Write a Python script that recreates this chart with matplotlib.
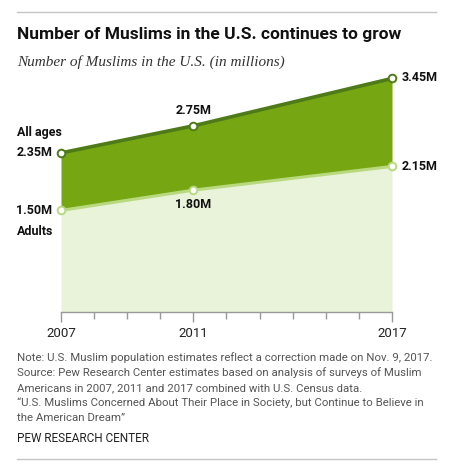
import matplotlib
matplotlib.use("Agg")
import matplotlib.pyplot as plt
from matplotlib.lines import Line2D

years = [2007, 2011, 2017]
all_ages = [2.35, 2.75, 3.45]
adults = [1.50, 1.80, 2.15]
all_labels = ["2.35M", "2.75M", "3.45M"]
adult_labels = ["1.50M", "1.80M", "2.15M"]

title = "Number of Muslims in the U.S. continues to grow"
subtitle = "Number of Muslims in the U.S. (in millions)"
notes = [
    "Note: U.S. Muslim population estimates reflect a correction made on Nov. 9, 2017.",
    "Source: Pew Research Center estimates based on analysis of surveys of Muslim",
    "Americans in 2007, 2011 and 2017 combined with U.S. Census data.",
    "\u201cU.S. Muslims Concerned About Their Place in Society, but Continue to Believe in",
    "the American Dream\u201d",
]

W, H = 454, 470
dark_fill = "#77a613"
dark_line = "#4e7a17"
light_fill = "#e9f3da"
light_line = "#b9d97f"
sans = "Roboto"

fig = plt.figure(figsize=(W / 100, H / 100), dpi=100)


def fx(px):
    return px / W


def fy(py):
    return 1 - py / H


# axes: 2007 at x=61px, 2017 at x=392px, zero at y=312px, 67.7 px per million
ytop = 3.6
ax = fig.add_axes([fx(61), fy(312), fx(392) - fx(61), ytop * 67.7 / H])
ax.set_xlim(2007, 2017)
ax.set_ylim(0, ytop)

ax.fill_between(years, adults, all_ages, color=dark_fill, lw=0)
ax.fill_between(years, 0, adults, color=light_fill, lw=0)
ax.plot(years, all_ages, color=dark_line, lw=2.6, solid_capstyle="butt")
ax.plot(years, adults, color=light_line, lw=2.2, solid_capstyle="butt")
ax.plot([2017, 2017], [0, adults[-1]], color=light_line, lw=0.8)
ax.plot(years, all_ages, "o", ms=5.5, mfc="white", mec=dark_line, mew=1.4, clip_on=False)
ax.plot(years, adults, "o", ms=5.5, mfc="white", mec=light_line, mew=1.4, clip_on=False)

for s in ["top", "right", "left"]:
    ax.spines[s].set_visible(False)
ax.spines["bottom"].set_color("#999999")
ax.spines["bottom"].set_linewidth(1)
ax.set_yticks([])
ax.set_xticks(years)
ax.set_xticklabels([str(y) for y in years], fontsize=9.5, family=sans, color="#222222")
ax.set_xticks(range(2007, 2018), minor=True)
ax.tick_params(axis="x", which="major", length=7, width=1, color="#999999", pad=4)
ax.tick_params(axis="x", which="minor", length=5, width=1, color="#999999")

lab = dict(fontsize=9, fontweight="bold", family=sans, color="#111111",
           textcoords="offset pixels", va="center")

offsets_all = [(-8, 0, "right"), (0, 15, "center"), (10, 1, "left")]
offsets_adult = [(-9, 0, "right"), (0, -14, "center"), (10, 0, "left")]
for x, y, t, (dx, dy, ha) in zip(years, all_ages, all_labels, offsets_all):
    ax.annotate(t, (x, y), xytext=(dx, dy), ha=ha, **lab)
for x, y, t, (dx, dy, ha) in zip(years, adults, adult_labels, offsets_adult):
    ax.annotate(t, (x, y), xytext=(dx, dy), ha=ha, **lab)
ax.annotate("All ages", (2007, all_ages[0]), xytext=(-44, 20), ha="left", **lab)
ax.annotate("Adults", (2007, adults[0]), xytext=(-44, -21), ha="left", **lab)

# header and footer
fig.add_artist(Line2D([fx(17), fx(436)], [fy(12), fy(12)], color="#c4c4c4", lw=1))
fig.add_artist(Line2D([fx(17), fx(436)], [fy(459), fy(459)], color="#c4c4c4", lw=1))
fig.text(fx(17), fy(34), title, fontsize=12.5, fontweight="bold", family=sans,
         color="#111111", va="center")
fig.text(fx(17), fy(62), subtitle, fontsize=11, style="italic", family="Liberation Serif",
         color="#333333", va="center")
for i, line in enumerate(notes):
    fig.text(fx(17), fy(358 + 15 * i), line, fontsize=8.2, family=sans,
             color="#555555", va="center")
fig.text(fx(17), fy(439), "PEW RESEARCH CENTER", fontsize=8.5, family=sans,
         color="#222222", va="center")

fig.savefig("out.png", dpi=100)
